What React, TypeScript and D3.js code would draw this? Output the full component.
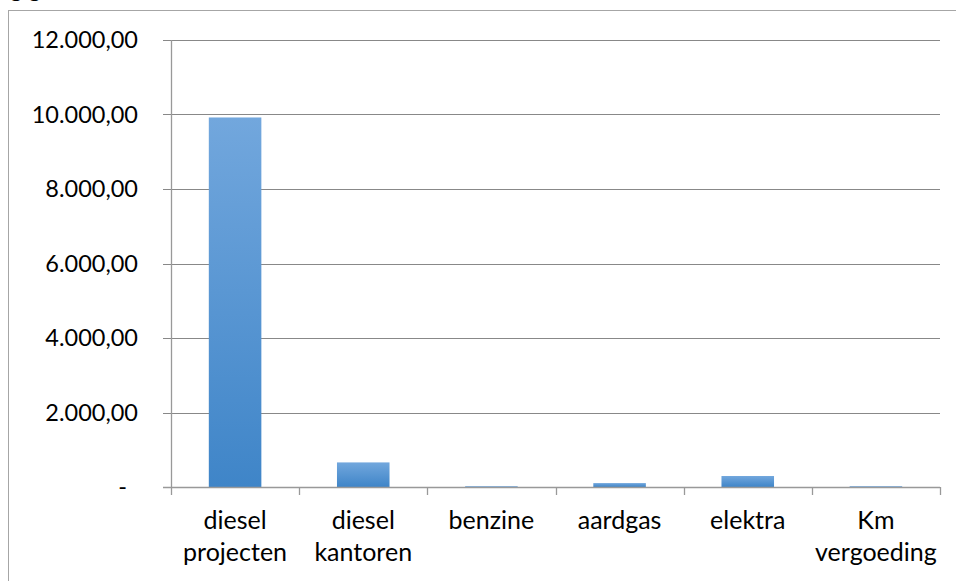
import React, { useEffect, useRef } from 'react';
import * as d3 from 'd3';

// categorieen en waarden
const categories = ['diesel projecten', 'diesel kantoren', 'benzine', 'aardgas', 'elektra', 'Km vergoeding'];
const labelLines = [['diesel', 'projecten'], ['diesel', 'kantoren'], ['benzine'], ['aardgas'], ['elektra'], ['Km', 'vergoeding']];
const values = [9920, 660, 20, 105, 295, 20];
const yTicks = [0, 2000, 4000, 6000, 8000, 10000, 12000];

const W = 956;
const H = 581;

const nl = d3.formatLocale({ decimal: ',', thousands: '.', grouping: [3], currency: ['€', ''] });
const fmt = nl.format(',.2f');

export default function App() {
    const ref = useRef<SVGSVGElement>(null);

    useEffect(() => {
        const svg = d3.select(ref.current);
        svg.selectAll('*').remove();

        const font = 'Lato, "Open Sans", sans-serif';

        const defs = svg.append('defs');
        const grad = defs.append('linearGradient')
            .attr('id', 'barGrad')
            .attr('x1', 0).attr('y1', 0).attr('x2', 0).attr('y2', 1);
        grad.append('stop').attr('offset', '0%').attr('stop-color', '#72a7dd');
        grad.append('stop').attr('offset', '100%').attr('stop-color', '#3f85c8');

        svg.append('rect').attr('width', W).attr('height', H).attr('fill', '#fff');

        // stukje titel dat boven de rand valt
        svg.append('text')
            .attr('x', 10).attr('y', -3)
            .style('font-family', font).style('font-size', '24px')
            .text('g  g');

        // buitenrand
        svg.append('rect')
            .attr('x', 8.5).attr('y', 10.5)
            .attr('width', W).attr('height', H)
            .attr('fill', 'none')
            .attr('stroke', '#a6a6a6');

        const x0 = 171, x1 = 940, yBottom = 487, yTop = 40;

        const y = d3.scaleLinear().domain([0, 12000]).range([yBottom, yTop]);

        const xCat = d3.scaleBand<string>().domain(categories).range([x0, x1]).padding(0);

        const xBar = d3.scaleBand<string>()
            .domain(categories)
            .range([x0, x1])
            .paddingInner(0.59)
            .paddingOuter(0.295);

        const chart = svg.append('g');

        // horizontale lijnen
        chart.append('g')
            .selectAll('line')
            .data(yTicks.filter(t => t > 0))
            .enter()
            .append('line')
            .attr('x1', x0 - 8).attr('x2', x1)
            .attr('y1', d => Math.round(y(d)) + 0.5)
            .attr('y2', d => Math.round(y(d)) + 0.5)
            .attr('stroke', '#888')
            .attr('stroke-width', 1);

        // balken
        chart.append('g')
            .selectAll('rect')
            .data(values)
            .enter()
            .append('rect')
            .attr('x', (d, i) => xBar(categories[i])!)
            .attr('y', d => y(d))
            .attr('width', xBar.bandwidth())
            .attr('height', d => yBottom - y(d))
            .attr('fill', 'url(#barGrad)');

        // y-as
        chart.append('line')
            .attr('x1', x0 + 0.5).attr('x2', x0 + 0.5)
            .attr('y1', yTop).attr('y2', yBottom)
            .attr('stroke', '#999').attr('stroke-width', 1.3);

        // x-as met streepjes
        chart.append('line')
            .attr('x1', x0 - 8).attr('x2', x1)
            .attr('y1', yBottom + 0.5).attr('y2', yBottom + 0.5)
            .attr('stroke', '#999').attr('stroke-width', 1.3);

        const bounds = categories.map(c => xCat(c)!).concat([x1]);
        chart.append('g')
            .selectAll('line')
            .data(bounds)
            .enter()
            .append('line')
            .attr('x1', d => Math.round(d) + 0.5).attr('x2', d => Math.round(d) + 0.5)
            .attr('y1', yBottom).attr('y2', yBottom + 8)
            .attr('stroke', '#999').attr('stroke-width', 1.3);

        // y labels
        chart.append('g')
            .selectAll('text')
            .data(yTicks)
            .enter()
            .append('text')
            .attr('x', d => (d === 0 ? 127 : 138))
            .attr('y', d => y(d))
            .attr('dy', '0.36em')
            .attr('text-anchor', 'end')
            .style('font-family', font)
            .style('font-size', '23.5px')
            .attr('fill', '#000')
            .text(d => (d === 0 ? '-' : fmt(d)));

        // categorie labels
        const lab = chart.append('g')
            .selectAll('text')
            .data(labelLines)
            .enter()
            .append('text')
            .attr('text-anchor', 'middle')
            .style('font-family', font)
            .style('font-size', '25px')
            .attr('fill', '#000');

        lab.selectAll('tspan')
            .data((d, i) => d.map(t => ({ t, i })))
            .enter()
            .append('tspan')
            .attr('x', d => xCat(categories[d.i])! + xCat.bandwidth() / 2)
            .attr('y', (d, j) => 529 + j * 32)
            .text(d => d.t);
    }, []);

    return (
        <svg ref={ref} width={W} height={H}
            style={{ position: 'absolute', left: 0, top: 0, display: 'block' }} />
    );
}
